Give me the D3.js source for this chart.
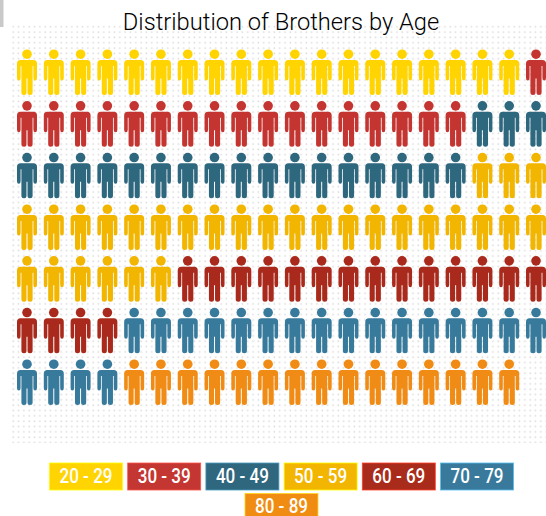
<!DOCTYPE html>
<html>
<head>
<meta charset="utf-8">
<script src="https://cdn.jsdelivr.net/npm/d3@7"></script>
<style>
html, body { margin: 0; padding: 0; background: #fff; overflow: hidden; }
</style>
</head>
<body>
<script>
var title = "Distribution of Brothers by Age";
var ageGroups = ["20 - 29", "30 - 39", "40 - 49", "50 - 59", "60 - 69", "70 - 79", "80 - 89"];
var brotherCounts = [19, 18, 20, 29, 18, 20, 15];
var groupColors = ["#ffd400", "#c43631", "#2f677f", "#f2b500", "#a92b1b", "#397a9c", "#f08c12"];
var perRow = 20;

var width = 546, height = 516;

// one entry per little man
var people = [];
ageGroups.forEach(function(g, i) {
    for (var n = 0; n < brotherCounts[i]; n++) {
        people.push({group: i, index: people.length});
    }
});

var xScale = d3.scalePoint()
    .domain(d3.range(perRow))
    .range([27, 536]);
var yScale = d3.scalePoint()
    .domain(d3.range(Math.ceil(people.length / perRow)))
    .range([49, 359]);

var svg = d3.select("body").append("svg")
    .attr("width", width)
    .attr("height", height)
    .style("display", "block");

var defs = svg.append("defs");
var dots = defs.append("pattern")
    .attr("id", "dots")
    .attr("patternUnits", "userSpaceOnUse")
    .attr("x", 12).attr("y", 25.6)
    .attr("width", 5.33).attr("height", 5.33);
dots.append("circle")
    .attr("cx", 1.2).attr("cy", 1.2).attr("r", 0.95)
    .attr("fill", "#dedede");

// the source picture is a bit soft
defs.append("filter")
    .attr("id", "soft")
    .append("feGaussianBlur")
    .attr("stdDeviation", 0.35);

svg.append("rect")
    .attr("x", 0).attr("y", 0)
    .attr("width", 3.5).attr("height", 27)
    .attr("fill", "#c9c9c9");

svg.append("rect")
    .attr("x", 12).attr("y", 25)
    .attr("width", 534).attr("height", 418)
    .attr("fill", "url(#dots)");

svg.append("text")
    .attr("x", 281).attr("y", 30)
    .attr("text-anchor", "middle")
    .attr("font-family", "Roboto")
    .attr("font-weight", 300)
    .attr("font-size", 23.7)
    .attr("fill", "#000")
    .text(title);

// person shape, origin at top of head, centre line
var personPath = "M-6.5,11 H6.5 Q10,11 10,14.5 V29 Q10,31.5 8.2,31.5 Q6.4,31.5 6.4,29 V17 H5.6 V43.5 Q5.6,46 3,46 Q0.5,46 0.5,43.5 V29.5 H-0.5 V43.5 Q-0.5,46 -3,46 Q-5.6,46 -5.6,43.5 V17 H-6.4 V29 Q-6.4,31.5 -8.2,31.5 Q-10,31.5 -10,29 V14.5 Q-10,11 -6.5,11 Z";

var person = svg.selectAll("g.person")
    .data(people)
    .enter().append("g")
    .attr("class", "person")
    .attr("fill", function(d) { return groupColors[d.group]; })
    .attr("filter", "url(#soft)")
    .attr("transform", function(d) {
        return "translate(" + xScale(d.index % perRow) + "," + yScale(Math.floor(d.index / perRow)) + ")";
    });

person.append("circle")
    .attr("cx", 0).attr("cy", 5.2).attr("r", 4.8);
person.append("path")
    .attr("d", personPath);

// legend, six on first line, last one on its own
var legendX = d3.scalePoint()
    .domain(d3.range(6))
    .range([49.5, 440.5]);

var legend = svg.selectAll("g.legend")
    .data(ageGroups)
    .enter().append("g")
    .attr("class", "legend")
    .attr("transform", function(d, i) {
        return i < 6 ? "translate(" + legendX(i) + ",463)" : "translate(245,493.5)";
    });

legend.append("rect")
    .attr("width", 73).attr("height", 27)
    .attr("fill", function(d, i) { return groupColors[i]; })
    .attr("stroke", function(d, i) { return d3.color(groupColors[i]).brighter(1.2); })
    .attr("stroke-width", 0.8);

legend.append("text")
    .attr("x", 36.5).attr("y", 19.5)
    .attr("text-anchor", "middle")
    .attr("font-family", "Roboto")
    .attr("font-weight", 500)
    .attr("font-size", 19.5)
    .attr("textLength", 53)
    .attr("lengthAdjust", "spacingAndGlyphs")
    .attr("fill", "#fff")
    .text(function(d) { return d; });
</script>
</body>
</html>
